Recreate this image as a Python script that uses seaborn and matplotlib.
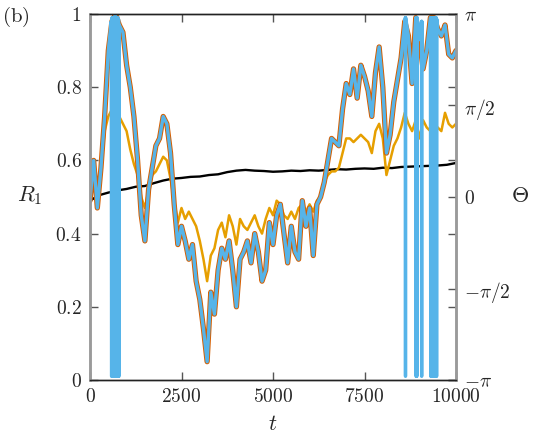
import numpy as np
import matplotlib
matplotlib.use("Agg")
import matplotlib.pyplot as plt
import seaborn as sns

sns.set_style("ticks")
plt.rcParams["mathtext.fontset"] = "cm"
plt.rcParams["font.family"] = ["DejaVu Serif"]

# --- data ---
t_main = list(range(0, 10001, 100))

r_orange = [0.49, 0.60, 0.47, 0.58, 0.72, 0.90, 0.98, 1.00, 0.97, 0.95,
            0.86, 0.80, 0.72, 0.60, 0.45, 0.38, 0.52, 0.58, 0.64, 0.66,
            0.72, 0.70, 0.62, 0.48, 0.37, 0.42, 0.38, 0.33, 0.37, 0.27,
            0.22, 0.14, 0.05, 0.24, 0.18, 0.30, 0.36, 0.33, 0.38, 0.30,
            0.20, 0.33, 0.35, 0.38, 0.32, 0.40, 0.35, 0.27, 0.30, 0.43,
            0.37, 0.45, 0.48, 0.40, 0.32, 0.42, 0.35, 0.33, 0.49, 0.42,
            0.47, 0.34, 0.48, 0.50, 0.54, 0.60, 0.66, 0.65, 0.64, 0.74,
            0.81, 0.78, 0.85, 0.77, 0.86, 0.83, 0.79, 0.72, 0.84, 0.91,
            0.80, 0.62, 0.67, 0.76, 0.82, 0.88, 0.98, 0.94, 0.81, 0.99,
            0.93, 0.85, 0.90, 0.99, 0.99, 0.96, 0.94, 0.97, 0.89, 0.88,
            0.90]

r_yellow = [0.49, 0.58, 0.50, 0.58, 0.68, 0.72, 0.74, 0.73, 0.72, 0.70,
            0.68, 0.63, 0.59, 0.56, 0.50, 0.47, 0.52, 0.56, 0.57, 0.59,
            0.61, 0.60, 0.55, 0.49, 0.43, 0.47, 0.44, 0.46, 0.44, 0.42,
            0.38, 0.33, 0.27, 0.34, 0.36, 0.41, 0.43, 0.39, 0.45, 0.42,
            0.37, 0.44, 0.42, 0.41, 0.43, 0.45, 0.42, 0.40, 0.44, 0.47,
            0.45, 0.49, 0.48, 0.45, 0.44, 0.46, 0.44, 0.47, 0.48, 0.46,
            0.48, 0.46, 0.49, 0.50, 0.54, 0.56, 0.57, 0.57, 0.58, 0.62,
            0.66, 0.66, 0.65, 0.66, 0.67, 0.66, 0.65, 0.62, 0.68, 0.70,
            0.66, 0.56, 0.60, 0.64, 0.66, 0.69, 0.73, 0.70, 0.68, 0.71,
            0.66, 0.71, 0.69, 0.68, 0.70, 0.69, 0.68, 0.73, 0.70, 0.69,
            0.70]

t_black = list(range(0, 10001, 250))
r_black = [0.490, 0.505, 0.512, 0.518, 0.522, 0.528, 0.530, 0.538, 0.545, 0.550,
           0.552, 0.555, 0.556, 0.560, 0.562, 0.568, 0.572, 0.574, 0.572, 0.571,
           0.569, 0.570, 0.572, 0.571, 0.573, 0.572, 0.574, 0.576, 0.575, 0.577,
           0.578, 0.577, 0.580, 0.579, 0.582, 0.583, 0.584, 0.585, 0.586, 0.588,
           0.593]

# phase Theta in units of pi (wraps at +-pi show as vertical strokes)
t_theta = ([0, 100, 200, 300, 400, 500,
            580, 590, 600, 610, 620, 630, 640, 650, 660, 670, 680, 690,
            700, 710, 720, 730, 740, 750, 760, 770, 780, 790]
           + list(range(800, 8501, 100))
           + [8600, 8615, 8620, 8625, 8700, 8800, 8900, 8910, 8920, 8930,
              8940, 9000, 9058, 9062, 9066, 9100, 9200, 9300,
              9310, 9320, 9330, 9340, 9350, 9360, 9370, 9380, 9390, 9400,
              9410, 9420, 9430, 9440, 9450, 9460, 9470, 9480,
              9500, 9600, 9700, 9800, 9900, 10000])
theta_pi = ([-0.02, 0.20, -0.06, 0.16, 0.44, 0.80,
             0.96, -0.98, 0.98, -0.98, 0.98, -0.98, 0.98, -0.98, 0.98, -0.98,
             0.99, -0.98, 0.99, -0.98, 0.98, -0.98, 0.98, -0.98, 0.98, -0.98,
             0.97, -0.98]
            + [0.94, 0.90, 0.72, 0.60, 0.44, 0.20, -0.10, -0.24, 0.04, 0.16,
               0.28, 0.32, 0.44, 0.40, 0.24, -0.04, -0.26, -0.16, -0.24, -0.34,
               -0.26, -0.46, -0.56, -0.72, -0.90, -0.52, -0.64, -0.40, -0.28, -0.34,
               -0.24, -0.40, -0.60, -0.34, -0.30, -0.24, -0.36, -0.20, -0.30, -0.46,
               -0.40, -0.14, -0.26, -0.10, -0.04, -0.20, -0.36, -0.16, -0.30, -0.34,
               -0.02, -0.16, -0.06, -0.32, -0.04, 0.00, 0.08, 0.20, 0.32, 0.30,
               0.28, 0.48, 0.62, 0.56, 0.70, 0.54, 0.72, 0.66, 0.58, 0.44,
               0.68, 0.82, 0.60, 0.24, 0.34, 0.52, 0.64, 0.76]
            + [0.96, 0.98, -0.98, 0.98, 0.88, 0.62, 0.98, -0.98, 0.98, -0.98,
               0.98, 0.86, 0.96, -0.98, 0.96, 0.70, 0.80, 0.98,
               -0.98, 0.98, -0.98, 0.98, -0.98, 0.98, -0.98, 0.98, -0.98, 0.98,
               -0.98, 0.98, -0.98, 0.98, -0.98, 0.98, -0.98, 0.97,
               0.92, 0.88, 0.94, 0.78, 0.76, 0.80])

x_ticks = [0, 2500, 5000, 7500, 10000]
y_ticks = [0, 0.2, 0.4, 0.6, 0.8, 1]
y2_ticks = [-np.pi, -np.pi / 2, 0, np.pi / 2, np.pi]
y2_labels = [r"$-\pi$", r"$-\pi/2$", r"$0$", r"$\pi/2$", r"$\pi$"]

# --- plot ---
fig = plt.figure(figsize=(5.41, 4.36), dpi=100)
ax = fig.add_axes([90 / 541, 1 - 380 / 436, 366 / 541, 366 / 436])

sns.lineplot(x=t_black, y=r_black, ax=ax, color="black", lw=1.7)
sns.lineplot(x=t_main, y=r_yellow, ax=ax, color="#E69F00", lw=1.8)
sns.lineplot(x=t_main, y=r_orange, ax=ax, color="#D55E00", lw=3.8)

ax2 = ax.twinx()
sns.lineplot(x=t_theta, y=np.pi * np.array(theta_pi), ax=ax2,
             color="#56B4E9", lw=2.4)

ax.set_xlim(0, 10000)
ax.set_ylim(0, 1)
ax2.set_ylim(-np.pi, np.pi)

ax.set_xticks(x_ticks)
ax.set_xticklabels([f"${v}$" for v in x_ticks])
ax.set_yticks(y_ticks)
ax.set_yticklabels([f"${v:g}$" for v in y_ticks])
ax2.set_yticks(y2_ticks)
ax2.set_yticklabels(y2_labels)
ax.set_xlabel("")
ax.set_ylabel("")
ax2.set_ylabel("")

ax.tick_params(direction="in", top=True, right=True, labelsize=14,
               length=6, width=1, color="#555555", pad=6)
ax2.tick_params(direction="in", labelsize=14, length=6, width=1,
                color="#555555", pad=6)

for a in (ax, ax2):
    a.spines["left"].set_color("#9a9a9a")
    a.spines["right"].set_color("#9a9a9a")
    a.spines["left"].set_linewidth(1.8)
    a.spines["right"].set_linewidth(1.8)
    a.spines["top"].set_color("#222222")
    a.spines["bottom"].set_color("#222222")
    a.spines["top"].set_linewidth(1.0)
    a.spines["bottom"].set_linewidth(1.0)

fig.text(30 / 541, 1 - 196 / 436, r"$R_1$", ha="center", va="center", size=16)
fig.text(520 / 541, 1 - 196 / 436, r"$\Theta$", ha="center", va="center", size=16)
fig.text(273 / 541, 1 - 424 / 436, r"$t$", ha="center", va="center", size=16)
fig.text(2 / 541, 1 - 17 / 436, r"$\mathrm{(b)}$", ha="left", va="center", size=15)

fig.savefig("out.png", dpi=100)
